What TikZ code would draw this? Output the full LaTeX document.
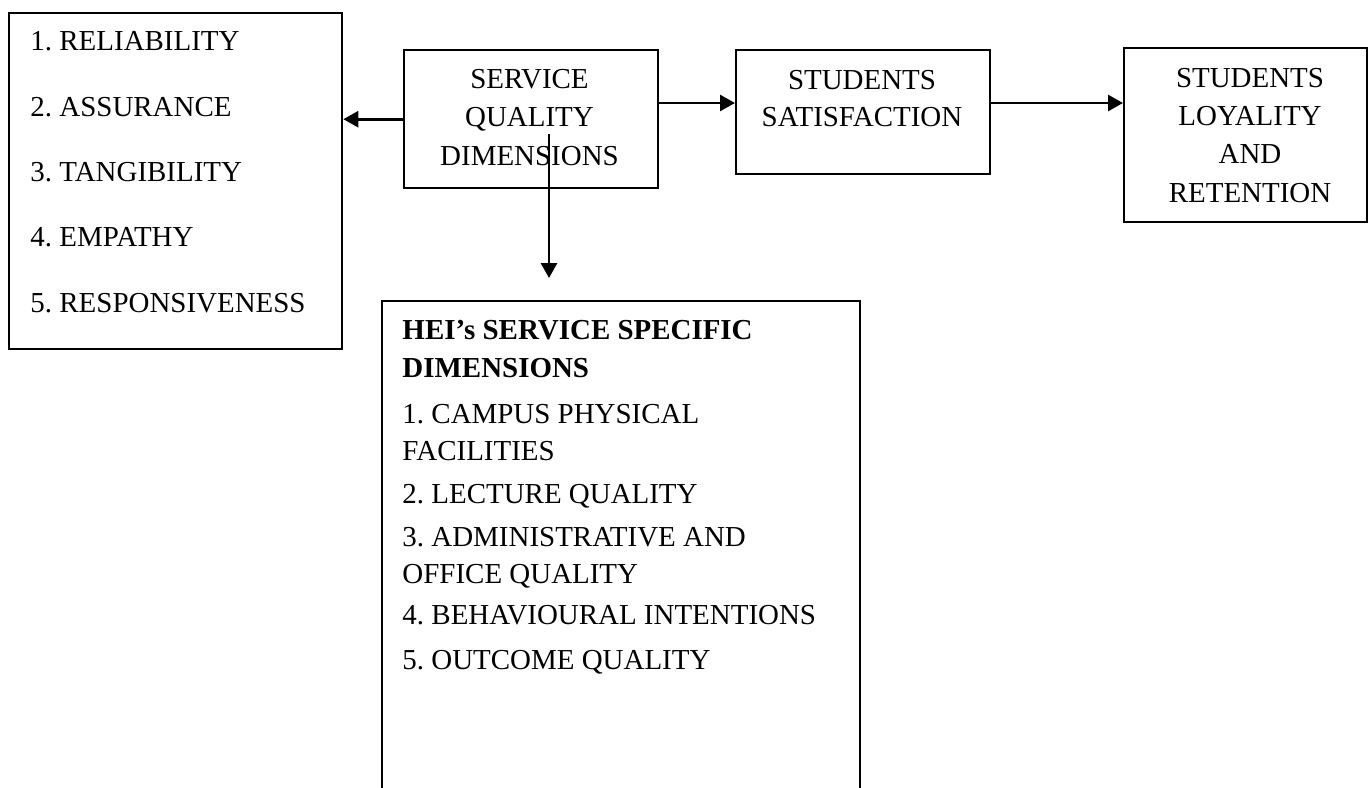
\documentclass[tikz,border=0pt]{standalone}
\usepackage{fontspec}
\setmainfont{Liberation Serif}
\usetikzlibrary{arrows.meta}
\frenchspacing

\tikzset{
  kasten/.style={draw, line width=1pt, anchor=north west, inner sep=0pt},
  zeile/.style={anchor=base west, inner sep=0pt},
  mitte/.style={anchor=base, inner sep=0pt},
  pfeil/.style={-{Triangle[length=6.2pt,width=6.6pt]}, line width=1.2pt}
}

\begin{document}
\begin{tikzpicture}[x=0.4145pt, y=-0.4145pt, font=\fontsize{12}{14}\selectfont]
	\clip (0,0) rectangle (1368,787);

	% Kasten links (Dimensionen)
	\node [kasten, minimum width=138pt, minimum height=139.3pt] (dims) at (8,12) {};
	\node [zeile] (r1) at (30,50) {1. RELIABILITY};
	\node [zeile] (r2) at (30,116) {2. ASSURANCE};
	\node [zeile] (r3) at (30,181) {3. TANGIBILITY};
	\node [zeile] (r4) at (30,246.5) {4. EMPATHY};
	\node [zeile] (r5) at (30,312) {5. RESPONSIVENESS};

	% Service Quality
	\node [kasten, minimum width=105.3pt, minimum height=57.2pt] (sqd) at (403,49) {};
	\node [mitte] (sqd1) at (529.5,88) {SERVICE};
	\node [mitte] (sqd2) at (529.5,126.5) {QUALITY};
	\node [mitte] (sqd3) at (529.5,165) {DIMENSIONS};

	% Zufriedenheit
	\node [kasten, minimum width=105.3pt, minimum height=51.4pt] (ss) at (735,49) {};
	\node [mitte] (ss1) at (862,89) {STUDENTS};
	\node [mitte] (ss2) at (862,126.5) {SATISFACTION};

	% Loyalitaet
	\node [kasten, minimum width=100.7pt, minimum height=72.1pt] (ll) at (1123,47) {};
	\node [mitte] (ll1) at (1250,87) {STUDENTS};
	\node [mitte] (ll2) at (1250,125) {LOYALITY};
	\node [mitte] (ll3) at (1250,163.5) {AND};
	\node [mitte] (ll4) at (1250,202) {RETENTION};

	% HEI Kasten (unten abgeschnitten)
	\node [kasten, minimum width=198.1pt, minimum height=215.5pt] (hei) at (381,300) {};
	\node [zeile, font=\fontsize{12}{14}\selectfont\bfseries] (h1) at (402,339) {HEI’s SERVICE SPECIFIC};
	\node [zeile, font=\fontsize{12}{14}\selectfont\bfseries] (h2) at (402,377) {DIMENSIONS};
	\node [zeile] (h3) at (402,423) {1. CAMPUS PHYSICAL};
	\node [zeile] (h4) at (402,460) {FACILITIES};
	\node [zeile] (h5) at (402,503) {2. LECTURE QUALITY};
	\node [zeile] (h6) at (402,546) {3. ADMINISTRATIVE AND};
	\node [zeile] (h7) at (402,583) {OFFICE QUALITY};
	\node [zeile] (h8) at (402,624) {4. BEHAVIOURAL INTENTIONS};
	\node [zeile] (h9) at (402,669) {5. OUTCOME QUALITY};

	% Pfeile
	\draw [pfeil] (sqd.west) -- (sqd.west -| dims.east);
	\draw [pfeil] (sqd.east |- 0,103) -- (ss.west |- 0,103);
	\draw [pfeil] (ss.east |- 0,103) -- (ll.west |- 0,103);
	\coordinate (ast) at (549,134);
	\draw [pfeil, shorten >=9.1pt] (ast) -- (ast |- hei.north);

\end{tikzpicture}
\end{document}
